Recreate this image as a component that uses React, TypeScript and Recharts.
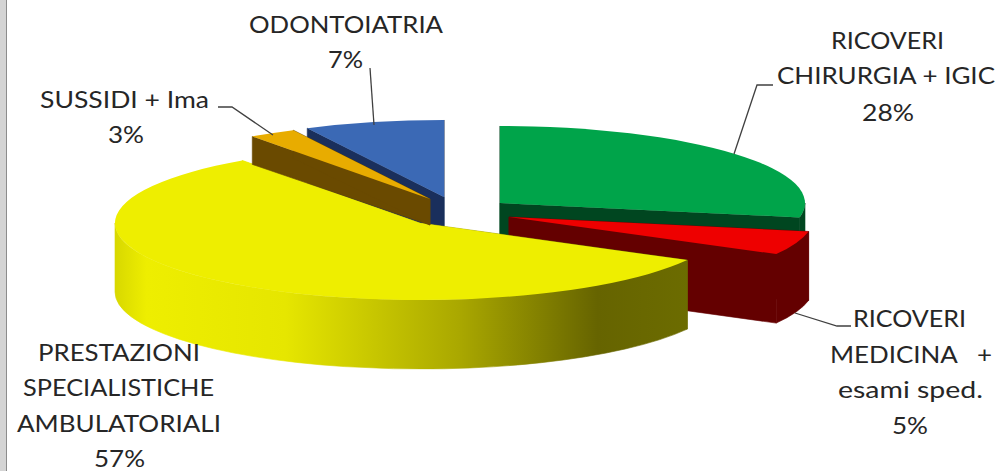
import React from "react";
import { PieChart, Pie } from "recharts";

const categories = ["ODONTOIATRIA", "RICOVERI CHIRURGIA + IGIC", "RICOVERI MEDICINA + esami sped.", "PRESTAZIONI SPECIALISTICHE AMBULATORIALI", "SUSSIDI + Ima"];
const shares = [7.4, 28, 5, 57.1, 2.5];

const labelRows: string[][] = [
  ["ODONTOIATRIA"],
  ["RICOVERI", "CHIRURGIA + IGIC"],
  ["RICOVERI", "MEDICINA\u00a0\u00a0 +", "esami sped."],
  ["PRESTAZIONI", "SPECIALISTICHE", "AMBULATORIALI"],
  ["SUSSIDI + Ima"],
];

// Presentation constants, one per slice in data order
const topColors = ["#3b69b5", "#00a44a", "#ee0000", "#eeee00", "#e8ac00"];
const wallColors = ["#1a2f5c", "#004620", "#640000", "url(#yellowWall)", "#6a4a00"];
const centers = [[444, 197], [500, 203], [509, 217], [420, 223], [430, 199]];
const rimDepths = [69, 69, 69, 69, 28];
const hubDepths = [69, 69, 69, 69, 26];
const tilt = 0.2525;
const RAD = Math.PI / 180;

const rowPlacement: [number, number, number][][] = [
  [[249, 194, 33], [328, 35, 68]],
  [[831, 113, 49], [777, 218, 84], [862, 52, 121]],
  [[853, 113, 327], [830, 162, 363], [838, 145, 398], [892, 36, 434]],
  [[38, 162, 361], [23, 191, 396], [17, 204, 432], [94, 51, 467]],
  [[40, 169, 108], [108, 36, 143]],
];
const leaders = [
  [[374, 125], [370, 68]],
  [[734, 154], [757, 85], [773, 85]],
  [[795, 313], [837, 326], [851, 326]],
  [],
  [[273, 135], [232, 107], [218, 107]],
];

function SliceShape(props: any) {
  const { startAngle, endAngle, outerRadius, index, payload } = props;
  const i = index ?? categories.indexOf(payload?.name ?? props.name);
  const [cx, cy] = centers[i];
  const d = rimDepths[i];
  const h = hubDepths[i];
  const rx = outerRadius;
  const ry = outerRadius * tilt;
  const pt = (a: number, dy = 0) => `${(cx + rx * Math.cos(a * RAD)).toFixed(2)} ${(cy - ry * Math.sin(a * RAD) + dy).toFixed(2)}`;
  const large = Math.abs(endAngle - startAngle) > 180 ? 1 : 0;
  const top = `M${cx} ${cy}L${pt(startAngle)}A${rx} ${ry} 0 ${large} 1 ${pt(endAngle)}Z`;
  const wallA = `M${cx} ${cy}L${pt(startAngle)}L${pt(startAngle, d)}L${cx} ${cy + h}Z`;
  const wallB = `M${cx} ${cy}L${pt(endAngle)}L${pt(endAngle, d)}L${cx} ${cy + h}Z`;
  // the rim only shows on the front half of the ellipse
  const a1 = Math.min(startAngle, 0);
  const a2 = Math.max(endAngle, -180);
  const rim = a1 > a2
    ? `M${pt(a1)}A${rx} ${ry} 0 0 1 ${pt(a2)}L${pt(a2, d)}A${rx} ${ry} 0 0 0 ${pt(a1, d)}Z`
    : null;
  const wall = wallColors[i];
  const common = { fill: wall, stroke: wall, strokeWidth: 0.6 };
  return (
    <g>
      <path d={wallA} {...common} />
      <path d={wallB} {...common} />
      {rim && <path d={rim} {...common} />}
      <path d={top} fill={topColors[i]} />
    </g>
  );
}

const textStyle = { fontFamily: "Lato, 'Open Sans', sans-serif", fontSize: 24, fill: "#262626" };

function SliceLabel(props: any) {
  const { index, value } = props;
  const rows = [...labelRows[index], `${Math.round(value)}%`];
  const line = leaders[index];
  return (
    <g>
      {line.length > 0 && (
        <polyline points={line.map((p) => p.join(",")).join(" ")} fill="none" stroke="#404040" strokeWidth={1.3} />
      )}
      {rows.map((row, r) => {
        const [x, w, y] = rowPlacement[index][r];
        return (
          <text key={r} x={x} y={y} textLength={w} lengthAdjust="spacingAndGlyphs" style={{ ...textStyle, whiteSpace: "pre" }}>
            {row}
          </text>
        );
      })}
    </g>
  );
}

const data = categories.map((name, i) => ({ name, value: shares[i] }));

export default function App() {
  return (
    <div style={{ position: "absolute", left: 0, top: 0, width: 1000, height: 471, background: "#fff", overflow: "hidden" }}>
      <div style={{ position: "absolute", left: 0, top: 0, width: 6, height: 471, background: "#d4d4d4" }} />
      <div style={{ position: "absolute", left: 6, top: 0, width: 1, height: 471, background: "#8c8c8c" }} />
      <PieChart width={1000} height={471} margin={{ top: 0, right: 0, bottom: 0, left: 0 }}>
        <defs>
          <linearGradient id="yellowWall" gradientUnits="userSpaceOnUse" x1={112} y1={0} x2={690} y2={0}>
            <stop offset="0" stopColor="#d6d600" />
            <stop offset="0.06" stopColor="#eeee00" />
            <stop offset="0.3" stopColor="#e6e600" />
            <stop offset="0.6" stopColor="#aaa800" />
            <stop offset="0.84" stopColor="#666400" />
            <stop offset="1" stopColor="#6c6c00" />
          </linearGradient>
        </defs>
        <Pie
          data={data}
          dataKey="value"
          nameKey="name"
          cx={430}
          cy={220}
          innerRadius={0}
          outerRadius={305}
          startAngle={116.64}
          endAngle={-243.36}
          stroke="none"
          isAnimationActive={false}
          shape={SliceShape}
          label={SliceLabel}
          labelLine={false}
        />
      </PieChart>
    </div>
  );
}
